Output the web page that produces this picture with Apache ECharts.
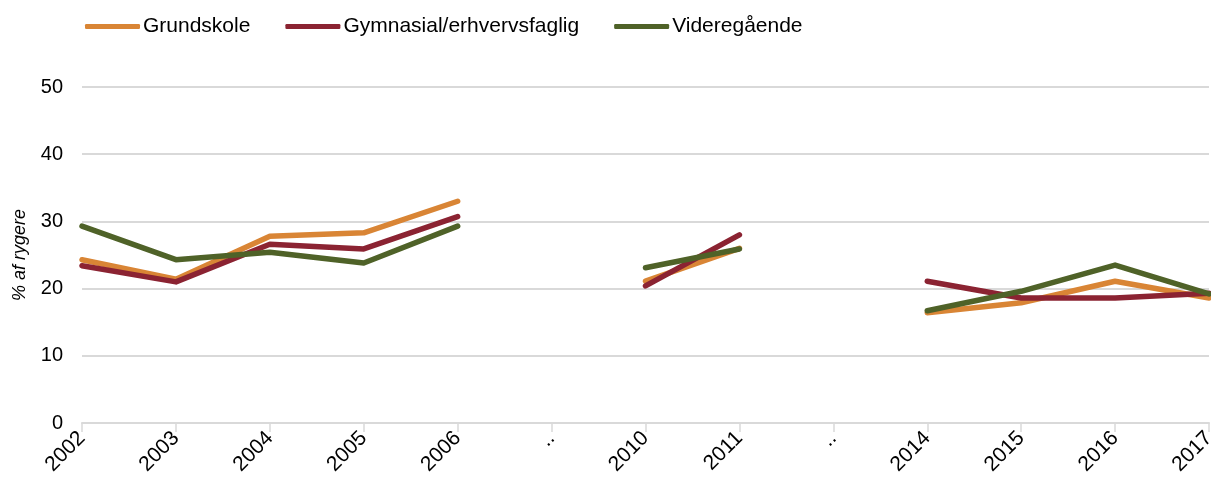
<!DOCTYPE html>
<html>
<head>
<meta charset="utf-8">
<script src="https://cdn.jsdelivr.net/npm/echarts@6/dist/echarts.min.js"></script>
<style>
    html, body { margin: 0; padding: 0; background: #fff; }
    #chart { width: 1211px; height: 479px; }
</style>
</head>
<body>
<div id="chart"></div>
<script>
    // årstal, ".." markerer huller i serien
    var years = ['2002', '2003', '2004', '2005', '2006', '..', '2010', '2011', '..', '2014', '2015', '2016', '2017'];
    var grundskole = [24.3, 21.4, 27.8, 28.3, 33.0, null, 21.1, 26.0, null, 16.4, 17.9, 21.1, 18.6];
    var gymnasial = [23.4, 21.0, 26.6, 25.9, 30.7, null, 20.4, 28.0, null, 21.1, 18.6, 18.6, 19.3];
    var videregaaende = [29.3, 24.3, 25.4, 23.8, 29.3, null, 23.1, 25.9, null, 16.7, 19.6, 23.5, 19.2];
    var yTicks = [0, 10, 20, 30, 40, 50];

    var chart = echarts.init(document.getElementById('chart'));
    var font = 'Liberation Sans, Arial, sans-serif';

    function line(name, data, color) {
        return {
            name: name,
            type: 'line',
            data: data,
            symbol: 'none',
            connectNulls: false,
            lineStyle: { width: 5.5, color: color, cap: 'round', join: 'round' },
            itemStyle: { color: color }
        };
    }

    chart.setOption({
        animation: false,
        textStyle: { fontFamily: font },
        legend: {
            left: 80,
            top: 11,
            itemWidth: 55,
            itemHeight: 5,
            itemGap: 35,
            icon: 'roundRect',
            textStyle: { fontSize: 21, color: '#000', fontFamily: font, padding: [0, 0, 0, -2] },
            data: ['Grundskole', 'Gymnasial/erhvervsfaglig', 'Videregående']
        },
        grid: { left: 82, right: 2, top: 87, bottom: 56, containLabel: false, outerBoundsMode: 'none' },
        xAxis: {
            type: 'category',
            data: years,
            boundaryGap: false,
            axisLine: { lineStyle: { color: '#d9d9d9', width: 2 } },
            axisTick: { show: true, length: 9, lineStyle: { color: '#d9d9d9', width: 1.5 } },
            axisLabel: { rotate: 45, fontSize: 21, color: '#000', margin: 12, interval: 0 },
            splitLine: { show: false }
        },
        yAxis: {
            type: 'value',
            min: yTicks[0],
            max: yTicks[yTicks.length - 1],
            interval: 10,
            name: '% af rygere',
            nameLocation: 'middle',
            nameGap: 53,
            nameTextStyle: { fontSize: 18, fontStyle: 'italic', color: '#000' },
            axisLine: { show: false },
            axisTick: { show: false },
            axisLabel: { fontSize: 20, color: '#000', margin: 19 },
            splitLine: { lineStyle: { color: '#d9d9d9', width: 2 } }
        },
        series: [
            line('Grundskole', grundskole, '#D98535'),
            line('Gymnasial/erhvervsfaglig', gymnasial, '#8B2332'),
            line('Videregående', videregaaende, '#4F6228')
        ]
    });
</script>
</body>
</html>
